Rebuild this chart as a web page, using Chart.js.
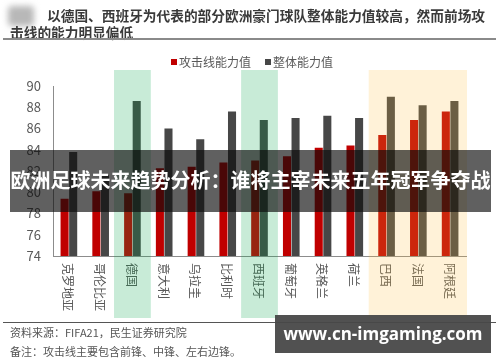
<!DOCTYPE html>
<html>
<head>
<meta charset="utf-8">
<script src="https://cdn.jsdelivr.net/npm/chart.js@4/dist/chart.umd.min.js"></script>
<style>
  html, body { margin: 0; padding: 0; background: #fff; }
  body { width: 500px; height: 362px; position: relative; overflow: hidden; font-family: "Noto Sans CJK SC", "Noto Sans", sans-serif; }
  #wrap { position: absolute; left: 0; top: 0; width: 500px; height: 362px; }
  .logo { position: absolute; left: 8px; top: 6px; width: 26px; height: 20px; background: #b8b8b8; filter: blur(3px); border-radius: 4px; }
  .title { position: absolute; font-size: 13.7px; font-weight: bold; color: #3a3a3a; line-height: 18px; white-space: nowrap; }
  .rule1 { position: absolute; left: 3px; top: 38px; width: 493px; height: 2px; background: #8a8a8a; }
  .rule2 { position: absolute; left: 3px; top: 322px; width: 493px; height: 1px; background: #555; }
  .foot { position: absolute; left: 10px; font-size: 11px; color: #555; line-height: 14px; }
  .banner { position: absolute; left: 10px; top: 150px; width: 481px; height: 62px; background: rgba(10,10,10,0.65); color: #fff; font-size: 20px; font-weight: bold; line-height: 60px; text-align: center; white-space: nowrap; }
  .wm { position: absolute; left: 275px; top: 315px; width: 216px; height: 38px; background: rgba(72,72,72,0.95); color: #fff; font-family: "Open Sans", "DejaVu Sans", sans-serif; font-size: 17px; font-weight: bold; line-height: 38px; text-align: center; white-space: nowrap; }
</style>
</head>
<body>
<div id="wrap"><canvas id="c" width="500" height="362"></canvas></div>
<div class="logo"></div>
<div class="title" style="left:47px; top:6px;">以德国、西班牙为代表的部分欧洲豪门球队整体能力值较高，然而前场攻</div>
<div class="title" style="left:10px; top:23px;">击线的能力明显偏低</div>
<div class="rule1"></div>
<div class="rule2"></div>
<div class="foot" style="top:325px;">资料来源：FIFA21，民生证券研究院</div>
<div class="foot" style="top:344px;">备注：攻击线主要包含前锋、中锋、左右边锋。</div>
<div class="banner">欧洲足球未来趋势分析：谁将主宰未来五年冠军争夺战</div>
<div class="wm">www.cn-imgaming.com</div>
<script>
const categories = ["克罗地亚", "哥伦比亚", "德国", "意大利", "乌拉圭", "比利时", "西班牙", "葡萄牙", "英格兰", "荷兰", "巴西", "法国", "阿根廷"];
const attackValues = [79.4, 80.1, 79.9, 82.25, 82.4, 82.8, 83.0, 83.4, 84.2, 84.4, 85.4, 86.8, 87.6];
const overallValues = [83.8, 81.6, 88.6, 86.0, 85.0, 87.6, 86.8, 87.0, 87.2, 87.0, 89.0, 88.2, 88.6];
const seriesNames = ["攻击线能力值", "整体能力值"];
const yTicks = [74, 76, 78, 80, 82, 84, 86, 88, 90];
const greenGroups = [[2, 2], [6, 6]];
const yellowGroups = [[10, 12]];

const FONT = '"Noto Sans CJK SC", "Noto Sans", sans-serif';

const customPlugin = {
  id: 'custom',
  afterDraw(chart) {
    const ctx = chart.ctx;
    const x = chart.scales.x;
    const area = chart.chartArea;
    const half = (x.getPixelForTick(1) - x.getPixelForTick(0)) / 2;
    // category labels, rotated 90° clockwise
    ctx.save();
    ctx.fillStyle = '#595959';
    ctx.font = '12px ' + FONT;
    ctx.textAlign = 'left';
    ctx.textBaseline = 'middle';
    categories.forEach((c, i) => {
      const px = x.getPixelForTick(i);
      ctx.save();
      ctx.translate(px - 1, area.bottom + 7);
      ctx.rotate(Math.PI / 2);
      ctx.fillText(c, 0, 0);
      ctx.restore();
    });
    ctx.restore();
    // legend
    ctx.save();
    ctx.font = '12px ' + FONT;
    ctx.textBaseline = 'middle';
    const items = chart.data.datasets.map(d => ({ label: d.label, color: d.backgroundColor }));
    const widths = items.map(it => 8 + ctx.measureText(it.label).width);
    const gap = 14;
    const total = widths.reduce((a, b) => a + b, 0) + gap * (items.length - 1);
    let lx = 252 - total / 2;
    const ly = 62;
    items.forEach((it, i) => {
      ctx.fillStyle = it.color;
      ctx.fillRect(lx, ly - 3, 6, 6);
      ctx.fillStyle = '#595959';
      ctx.fillText(it.label, lx + 8, ly);
      lx += widths[i] + gap;
    });
    ctx.restore();
    // highlight bands
    const top = 70, bottom = 318;
    ctx.save();
    ctx.fillStyle = 'rgba(5,164,73,0.22)';
    greenGroups.forEach(([a, b]) => {
      const l = x.getPixelForTick(a) - half - 2.5;
      const r = x.getPixelForTick(b) + half + 2.5;
      ctx.fillRect(l, top, r - l, bottom - top);
    });
    ctx.fillStyle = 'rgba(255,190,60,0.2)';
    yellowGroups.forEach(([a, b]) => {
      const l = x.getPixelForTick(a) - half - 2;
      const r = x.getPixelForTick(b) + half + 1;
      ctx.fillRect(l, top, r - l, bottom - top);
    });
    ctx.restore();
  }
};

new Chart(document.getElementById('c'), {
  type: 'bar',
  data: {
    labels: categories,
    datasets: [
      { label: seriesNames[0], data: attackValues, backgroundColor: '#C00000', categoryPercentage: 0.54, barPercentage: 0.94 },
      { label: seriesNames[1], data: overallValues, backgroundColor: '#474747', categoryPercentage: 0.54, barPercentage: 0.94 }
    ]
  },
  options: {
    responsive: false,
    animation: false,
    devicePixelRatio: 1,
    layout: { padding: { left: 0, right: 34, top: 86, bottom: 0 } },
    plugins: { legend: { display: false }, tooltip: { enabled: false } },
    scales: {
      x: {
        grid: { display: false, drawTicks: false },
        border: { display: true, color: '#8c8c8c', width: 1 },
        ticks: { display: false },
        afterFit(scale) { scale.height = 106; }
      },
      y: {
        min: 74, max: 90,
        grid: { display: false, drawTicks: false },
        border: { display: true, color: '#8c8c8c', width: 1 },
        afterBuildTicks(scale) { scale.ticks = yTicks.map(v => ({ value: v })); },
        ticks: { padding: 12, color: '#595959', font: { size: 13, family: FONT } },
        afterFit(scale) { scale.width = 53; }
      }
    }
  },
  plugins: [customPlugin]
});
</script>
</body>
</html>
